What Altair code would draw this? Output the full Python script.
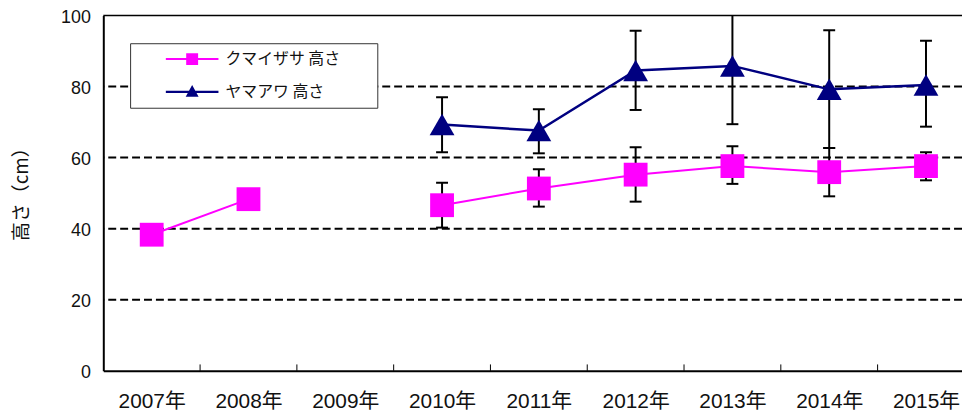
import altair as alt
import pandas as pd

# ---- data ----
years = [2007, 2008, 2009, 2010, 2011, 2012, 2013, 2014, 2015]
kuma_mean = [38.3, 48.3, None, 46.6, 51.3, 55.2, 57.6, 55.9, 57.6]
kuma_low = [None, None, None, 40.3, 46.2, 47.6, 52.6, 49.1, 53.6]
kuma_high = [None, None, None, 52.9, 56.7, 62.9, 63.2, 62.7, 61.5]
yama_mean = [None, None, None, 69.3, 67.6, 84.5, 85.8, 79.2, 80.4]
yama_low = [None, None, None, 61.5, 61.2, 73.4, 69.4, 62.7, 68.7]
yama_high = [None, None, None, 77.0, 73.6, 95.7, 102.2, 95.8, 92.9]

series_names = ["クマイザサ 高さ", "ヤマアワ 高さ"]
series_colors = ["#FF00FF", "#000080"]
y_tick_values = [0, 20, 40, 60, 80, 100]
grid_values = [20, 40, 60, 80]
category_bounds = [2007.5, 2008.5, 2009.5, 2010.5, 2011.5, 2012.5, 2013.5, 2014.5]
y_title = "高さ（cm）"

# ---- tables built from the arrays ----
rows = []
for name, means, lows, highs in [
    (series_names[0], kuma_mean, kuma_low, kuma_high),
    (series_names[1], yama_mean, yama_low, yama_high),
]:
    for yr, m, lo, hi in zip(years, means, lows, highs):
        rows.append({"series": name, "year": yr, "value": m, "lo": lo, "hi": hi})
df = pd.DataFrame(rows)

LABEL_FONT = "Liberation Sans, Noto Sans CJK JP"
CJK_FONT = "Noto Sans CJK JP"
TXT = "#111111"

x_scale = alt.Scale(domain=[2006.5, 2015.372], nice=False, zero=False)
y_scale = alt.Scale(domain=[0, 100], nice=False, zero=True)

x_axis = alt.Axis(
    values=years, labelExpr="datum.value + '年'", ticks=False, grid=False,
    domainColor="black", domainWidth=2, labelFont=LABEL_FONT, labelFontSize=21,
    labelColor=TXT, labelPadding=20, labelOverlap=False, labelFlush=False, title=None,
)
y_axis = alt.Axis(
    values=y_tick_values, ticks=False, grid=False, domainColor="black", domainWidth=2,
    labelFont="Liberation Sans", labelFontSize=18, labelColor=TXT, labelPadding=13,
    labelOffset=2,
    title=y_title, titleFont=CJK_FONT, titleFontSize=19, titleFontWeight="normal",
    titleColor=TXT, titleAngle=270, titleX=-82, titleY=175, titleAlign="center",
    titleBaseline="middle",
)

def X(field="year"):
    return alt.X(f"{field}:Q", scale=x_scale, axis=x_axis)

def Y(field="value"):
    return alt.Y(f"{field}:Q", scale=y_scale, axis=y_axis)

# gridlines
grid = alt.Chart(pd.DataFrame({"value": grid_values})).mark_rule(
    color="black", strokeWidth=2, strokeDash=[8, 4]
).encode(y=Y())

# top border
top = alt.Chart(pd.DataFrame({"value": [100]})).mark_rule(
    color="black", strokeWidth=1.5
).encode(y=Y())

# category boundary ticks on the x axis (pointing inward)
ticks = alt.Chart(pd.DataFrame({"year": category_bounds})).mark_rule(
    color="black", strokeWidth=1
).encode(x=X(), y=alt.datum(0, scale=y_scale), y2=alt.datum(1.8))

layers = [grid, top, ticks]

err_df = df.dropna(subset=["lo", "hi"])
err_rule = alt.Chart(err_df).mark_rule(color="black", strokeWidth=2, clip=True).encode(
    x=X(), y=Y("lo"), y2="hi:Q"
)
cap_lo = alt.Chart(err_df).mark_tick(
    color="black", orient="horizontal", size=12, thickness=2, opacity=1
).encode(x=X(), y=Y("lo"))
cap_hi = alt.Chart(err_df).mark_tick(
    color="black", orient="horizontal", size=12, thickness=2, opacity=1, clip=True
).encode(x=X(), y=Y("hi"))
layers += [err_rule, cap_lo, cap_hi]

shapes = ["square", "triangle-up"]
sizes = [576, 625]
widths = [2, 2.5]
for name, col, shp, sz, w in zip(series_names, series_colors, shapes, sizes, widths):
    sdf = df[df["series"] == name].dropna(subset=["value"])
    line = alt.Chart(sdf).transform_calculate(
        seg="datum.year < 2009 ? 0 : 1"
    ).mark_line(color=col, strokeWidth=w).encode(
        x=X(), y=Y(), detail="seg:N"
    )
    pts = alt.Chart(sdf).mark_point(
        shape=shp, filled=True, color=col, size=sz, opacity=1
    ).encode(x=X(), y=Y())
    layers += [line, pts]

# legend (entries drawn by the legend itself; the carrier marks are clipped away)
# symbol unit r = 6.5px; paths extend beyond [-1, 1] to draw the line segment
legend_paths = [
    "M-4.077,-0.154H4.077V0.154H-4.077ZM-0.923,-0.923H0.923V0.923H-0.923Z",
    "M-4.077,-0.192H4.077V0.192H-4.077ZM0,-1.077L1,0.769H-1Z",
]
legend_props = dict(
    title=None, orient="none", legendX=27, legendY=28,
    fillColor="white", strokeColor="#333333", padding=8, rowPadding=17,
    symbolSize=169, symbolOffset=46.5, symbolStrokeWidth=0, labelOffset=25.5,
    labelFont=CJK_FONT, labelFontSize=16, labelColor=TXT, labelLimit=400,
    labelExpr="datum.label + '\u2800\u2004\u2800'",
)
legend_df = pd.DataFrame({"series": series_names, "year": [2007, 2007], "value": [-50, -50]})
legend_layer = alt.Chart(legend_df).mark_point(filled=True, clip=True, size=169, opacity=1).encode(
    x=X(), y=Y(),
    color=alt.Color("series:N", scale=alt.Scale(domain=series_names, range=series_colors),
                    legend=alt.Legend(**legend_props)),
    shape=alt.Shape("series:N", scale=alt.Scale(domain=series_names, range=legend_paths),
                    legend=alt.Legend(**legend_props)),
)
layers.append(legend_layer)

chart = alt.layer(*layers).properties(
    width=865, height=358,
    autosize=alt.AutoSizeParams(type="none"),
    padding={"left": 96, "top": 6, "right": 0, "bottom": 40},
    background="white",
).configure_view(strokeWidth=0)

chart.save("out.html", embed_options={"renderer": "svg", "actions": False})
